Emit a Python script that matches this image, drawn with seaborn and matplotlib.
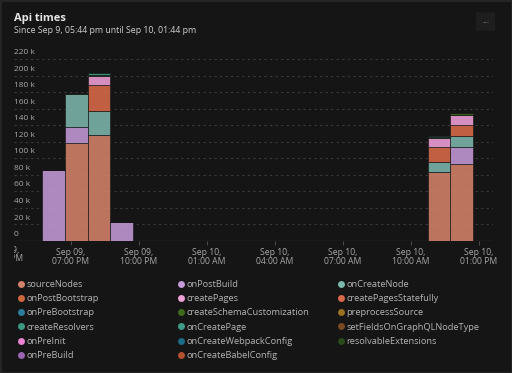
import matplotlib
matplotlib.use("Agg")
import matplotlib.pyplot as plt
from matplotlib.lines import Line2D
from matplotlib.patches import Rectangle, FancyBboxPatch
from matplotlib.transforms import Bbox
import pandas as pd
import seaborn as sns

# hourly buckets, hours since Sep 9 00:00 (bucket start 05:44 pm ...)
bucket_start = [17.733, 18.733, 19.733, 20.733, 34.733, 35.733]

# api times per bucket, in thousands
source_nodes = [0, 119, 128, 0, 84, 93]
on_post_build = [86, 19, 0, 23, 0, 21]
on_create_node = [0, 40, 29, 0, 11, 13]
create_pages_statefully = [0, 0, 31, 0, 19, 13]
create_pages = [0, 0, 11, 0, 11, 12]
create_schema_customization = [0, 1.5, 1.5, 0, 1, 3]
on_create_page = [0, 0, 2, 0, 1, 0]

y_ticks = [0, 20, 40, 60, 80, 100, 120, 140, 160, 180, 200, 220]
y_tick_labels = ["0", "20 k", "40 k", "60 k", "80 k", "100 k", "120 k", "140 k",
                 "160 k", "180 k", "200 k", "220 k"]
x_ticks = [19, 22, 25, 28, 31, 34, 37]
x_tick_labels = ["Sep 09,\n07:00 PM", "Sep 09,\n10:00 PM", "Sep 10,\n01:00 AM",
                 "Sep 10,\n04:00 AM", "Sep 10,\n07:00 AM", "Sep 10,\n10:00 AM",
                 "Sep 10,\n01:00 PM"]

legend_names = ["sourceNodes", "onPostBootstrap", "onPreBootstrap", "createResolvers",
                "onPreInit", "onPreBuild",
                "onPostBuild", "createPages", "createSchemaCustomization", "onCreatePage",
                "onCreateWebpackConfig", "onCreateBabelConfig",
                "onCreateNode", "createPagesStatefully", "preprocessSource",
                "setFieldsOnGraphQLNodeType", "resolvableExtensions"]
legend_colors = ["#d4826a", "#d0683f", "#2c7d9c", "#3c9a82", "#ec82d2", "#9a64b2",
                 "#c49ad8", "#f0a0d8", "#3e6a1c", "#3f9c88", "#1c6c88", "#b4502e",
                 "#7cb8ac", "#da6a4a", "#9a7022", "#7a4a22", "#2a4a1a"]
palette = dict(zip(legend_names, legend_colors))

BG = "#151515"
TXT = "#a8a8a8"

sns.set_theme(style="dark")
plt.rcParams["font.family"] = ["Open Sans", "DejaVu Sans"]

series = {
    "sourceNodes": source_nodes,
    "onPostBuild": on_post_build,
    "onCreateNode": on_create_node,
    "createPagesStatefully": create_pages_statefully,
    "createPages": create_pages,
    "createSchemaCustomization": create_schema_customization,
    "onCreatePage": on_create_page,
}
rows = []
for name, vals in series.items():
    for start, v in zip(bucket_start, vals):
        rows.append({"hour": start + 0.5, "api": name, "time": v})
df = pd.DataFrame(rows)

# seaborn stacks the last hue level at the bottom
stack_order = list(series.keys())[::-1]
edges = [17.733 + i for i in range(21)]

fig = plt.figure(figsize=(5.12, 3.73), dpi=100, facecolor=BG)
ax = fig.add_axes([14 / 512, 1 - 241 / 373, 479 / 512, 182 / 373])
ax.set_facecolor(BG)

sns.histplot(data=df, x="hour", weights="time", hue="api", hue_order=stack_order,
             multiple="stack", bins=edges, palette=palette, alpha=0.88,
             edgecolor="#161616", linewidth=0.45, legend=False, ax=ax)

ax.set_xlim(16.485, 37.62)
ax.set_ylim(0, 220)
ax.set_xlabel("")
ax.set_ylabel("")
for s in ax.spines.values():
    s.set_visible(False)

# gridlines + in-plot y labels
ytr = ax.get_yaxis_transform()
for v, lab in zip(y_ticks, y_tick_labels):
    if v == 0:
        ax.axhline(0, color="#4a4a4a", lw=0.9, zorder=0.5)
    else:
        ax.axhline(v, color="#3a3a3a", lw=0.8, ls=(0, (2, 3)), zorder=0.5)
    ax.text(0, v + 3.5, lab, transform=ytr, ha="left", va="bottom",
            fontsize=6, color=TXT, clip_on=False, zorder=4)
ax.set_yticks([])

ax.set_xticks(x_ticks)
ax.set_xticklabels(x_tick_labels, fontsize=6.2, color=TXT, linespacing=0.95)
ax.tick_params(axis="x", length=3, width=0.6, color="#555555", pad=2, bottom=True)

# first tick label is cut off by the plot's left edge
clip = Bbox.from_extents(14, 0, 512, 373)
t = ax.text(16.05, -5.5, "Sep 09,\n04:00 PM", ha="center", va="top", fontsize=6.2,
            color=TXT, linespacing=0.95, clip_on=True)
t.set_clip_box(clip)

# header
fig.text(14 / 512, 1 - 19 / 373, "Api times", fontsize=8, fontweight="bold",
         color="#e6e6e6", va="center", ha="left")
fig.text(14 / 512, 1 - 30.5 / 373, "Since Sep 9, 05:44 pm until Sep 10, 01:44 pm",
         fontsize=6.3, color="#cfcfcf", va="center", ha="left")
fig.patches.append(FancyBboxPatch((477 / 512, 1 - 30 / 373), 17 / 512, 17 / 373,
                                  boxstyle="round,pad=0.002", transform=fig.transFigure,
                                  facecolor="#1e1e1e", edgecolor="none"))
fig.text(485.5 / 512, 1 - 20.5 / 373, "...", fontsize=6.5, color="#a0a0a0",
         ha="center", va="center")

# legend: three columns
col_x = [18 / 512, 178 / 512, 338 / 512]
for c in range(3):
    names = legend_names[c * 6:(c + 1) * 6]
    handles = [Line2D([], [], marker="o", ls="", markersize=5, markeredgewidth=0,
                      color=palette[n]) for n in names]
    fig.legend(handles, names, loc="upper left", bbox_to_anchor=(col_x[c], 1 - 280 / 373),
               frameon=False, fontsize=6.7, labelcolor="#b4b4b4", handlelength=0.6,
               handletextpad=0.3, labelspacing=0.56, borderpad=0, borderaxespad=0)

fig.patches.append(Rectangle((0, 0), 1, 1, transform=fig.transFigure, fill=False,
                             edgecolor="#262626", lw=2))

fig.savefig("out.png", dpi=100, facecolor=BG)
